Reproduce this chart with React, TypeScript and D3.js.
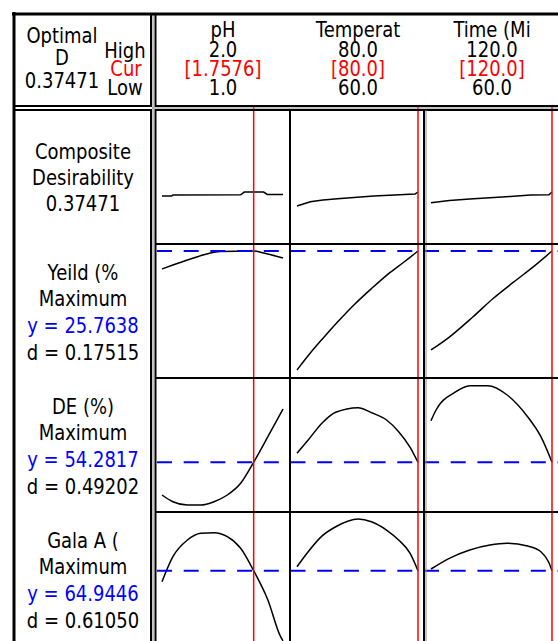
import React from "react";
import * as d3 from "d3";

// ---- Factors ----
const factorNames = ["pH", "Temperat", "Time (Mi"];
const factorLow = [1.0, 60.0, 60.0];
const factorHigh = [2.0, 80.0, 120.0];
const factorCur = [1.7576, 80.0, 120.0];
const highLabels = ["2.0", "80.0", "120.0"];
const curLabels = ["[1.7576]", "[80.0]", "[120.0]"];
const lowLabels = ["1.0", "60.0", "60.0"];

const optimalD = "0.37471";

// ---- Responses ----
const responseLabels = [
  ["Composite", "Desirability", "0.37471"],
  ["Yeild (%", "Maximum", "y = 25.7638", "d = 0.17515"],
  ["DE (%)", "Maximum", "y = 54.2817", "d = 0.49202"],
  ["Gala A (", "Maximum", "y = 64.9446", "d = 0.61050"],
];
const responseCurrent = [0.37471, 25.7638, 54.2817, 64.9446];
const responseDomains: [number, number][] = [
  [0, 1],
  [13.6, 25.7638],
  [40.0, 80.1],
  [50.0, 76.26],
];

// ---- Curves: [row][factor] -> [factorValue, responseValue][] ----
const compositePH: [number, number][] = [[1.0, 0.341], [1.08, 0.341], [1.09, 0.35], [1.65, 0.352], [1.68, 0.3747], [1.84, 0.3747], [1.87, 0.355], [2.0, 0.355]];
const compositeTemp: [number, number][] = [[60, 0.258], [62.2, 0.294], [64.3, 0.308], [66.7, 0.319], [69.4, 0.33], [72.7, 0.341], [76.1, 0.35], [79.5, 0.358], [80, 0.3747]];
const compositeTime: [number, number][] = [[60, 0.285], [69.1, 0.305], [79.2, 0.316], [89.2, 0.327], [99.3, 0.338], [109.4, 0.35], [118.5, 0.352], [120, 0.3747]];

const yieldPH: [number, number][] = [[1.0, 23.94], [1.09, 24.34], [1.21, 24.85], [1.37, 25.46], [1.48, 25.72], [1.7576, 25.7638], [1.84, 25.56], [2.0, 25.06]];
const yieldTemp: [number, number][] = [[60, 13.7], [62.2, 15.42], [64.2, 16.85], [66.7, 18.56], [69.4, 20.29], [72.3, 21.95], [75.1, 23.45], [77.8, 24.7], [80, 25.7638]];
const yieldTime: [number, number][] = [[60, 15.73], [69.1, 17.04], [80.7, 19.07], [90.8, 20.95], [100.9, 22.6], [111, 24.2], [120, 25.7638]];

const dePH: [number, number][] = [[1.0, 43.34], [1.09, 41.1], [1.21, 40.0], [1.32, 40.0], [1.43, 41.1], [1.54, 43.34], [1.65, 47.25], [1.7576, 54.2817], [1.875, 62.82], [2.0, 72.08]];
const deTemp: [number, number][] = [[60, 57.28], [61.85, 61.73], [64.2, 67.5], [66.4, 70.98], [70.1, 72.52], [72.3, 70.85], [74.8, 68.4], [76.8, 64.5], [78.7, 59.28], [80, 54.2817]];
const deTime: [number, number][] = [[60, 68.17], [62.5, 71.74], [71.6, 77.53], [79.2, 79.87], [88.2, 79.87], [97.8, 76.76], [107.9, 69.5], [114.5, 62.82], [120, 54.2817]];

const galaPH: [number, number][] = [[1.0, 62.54], [1.09, 68.01], [1.21, 71.66], [1.32, 73.14], [1.43, 73.27], [1.54, 72.39], [1.65, 69.85], [1.7576, 64.9446], [1.875, 58.53], [1.98, 50.5], [2.0, 49.6]];
const galaTemp: [number, number][] = [[60, 65.82], [61.85, 69.1], [64.2, 72.61], [66.4, 74.57], [70.1, 76.26], [72.3, 75.67], [74.8, 73.85], [76.8, 71.66], [78.7, 68.75], [80, 64.9446]];
const galaTime: [number, number][] = [[60, 65.32], [69.1, 67.66], [79.2, 69.48], [89.2, 70.57], [97.8, 70.94], [107.9, 70.35], [114.5, 69.1], [118.5, 66.7], [120, 64.9446]];

const curves = [
  [compositePH, compositeTemp, compositeTime],
  [yieldPH, yieldTemp, yieldTime],
  [dePH, deTemp, deTime],
  [galaPH, galaTemp, galaTime],
];

// ---- Layout ----
const W = 558;
const H = 641;
const colX = [155, 290, 424];
const colW = 134;
const rowY = [110, 244, 378, 512];
const rowH = 134;
const FONT = "DejaVu Sans";

function T({ x, y, children, fill = "#000", anchor = "middle" }: any) {
  return (
    <text
      transform={`translate(${x},${y}) scale(1,1.15)`}
      textAnchor={anchor}
      fill={fill}
      fontFamily={FONT}
      fontSize={18}
    >
      {children}
    </text>
  );
}

export default function App() {
  const xScales = factorNames.map((_, c) =>
    d3.scaleLinear().domain([factorLow[c], factorHigh[c]]).range([colX[c] + 7, colX[c] + 128])
  );
  const yScales = responseDomains.map((dom, r) =>
    d3.scaleLinear().domain(dom).range([rowY[r] + 127, rowY[r] + 7])
  );

  return (
    <svg
      width={W}
      height={H}
      style={{ position: "absolute", left: 0, top: 0, background: "#fff" }}
    >
      <rect x={0} y={0} width={W} height={H} fill="#fff" />
      <defs>
        {curves.map((row, r) =>
          row.map((_, c) => (
            <clipPath id={`clip-${r}-${c}`} key={`${r}-${c}`}>
              <rect x={colX[c] + 1} y={rowY[r] + 1} width={colW - 2} height={rowH - 2} />
            </clipPath>
          ))
        )}
      </defs>

      {/* curves */}
      {curves.map((row, r) =>
        row.map((pts, c) => {
          const line = d3
            .line<[number, number]>()
            .x((d) => xScales[c](d[0]))
            .y((d) => yScales[r](d[1]))
            .curve(r === 0 ? d3.curveLinear : d3.curveMonotoneX);
          return (
            <path
              key={`c-${r}-${c}`}
              d={line(pts) || ""}
              fill="none"
              stroke="#000"
              strokeWidth={1.5}
              clipPath={`url(#clip-${r}-${c})`}
            />
          );
        })
      )}

      {/* blue dashed current response lines */}
      {responseCurrent.map((v, r) =>
        r === 0 ? null : (
          <line
            key={`b-${r}`}
            x1={157}
            x2={W}
            y1={yScales[r](v)}
            y2={yScales[r](v)}
            stroke="#0000ff"
            strokeWidth={2}
            strokeDasharray="15 11.7"
          />
        )
      )}

      {/* red current factor lines */}
      {factorCur.map((v, c) => (
        <line
          key={`r-${c}`}
          x1={xScales[c](v)}
          x2={xScales[c](v)}
          y1={107}
          y2={H}
          stroke="#ff0000"
          strokeWidth={1.5}
        />
      ))}

      {/* frame */}
      <g fill="none" stroke="#000">
        <rect x={14} y={14} width={137} height={92} strokeWidth={2} />
        <rect x={155.5} y={14} width={500} height={92} strokeWidth={2} />
        <rect x={14} y={110} width={137} height={600} strokeWidth={2} />
        <rect x={155.5} y={110} width={500} height={600} strokeWidth={2} />
        <line x1={152} x2={W} y1={108} y2={108} stroke="#888" strokeWidth={1} />
        <line x1={153} x2={153} y1={14} y2={H} stroke="#888" strokeWidth={1} />
        <line x1={12} x2={W} y1={14} y2={14} strokeWidth={3} />
        <line x1={14} x2={14} y1={12} y2={H} strokeWidth={3} />
        {colX.slice(1).map((x) => (
          <line key={`v-${x}`} x1={x} x2={x} y1={110} y2={H} strokeWidth={2} />
        ))}
        <line x1={colX[2] + 2} x2={colX[2] + 2} y1={110} y2={H} stroke="#888" strokeWidth={1} />
        {rowY.slice(1).map((y) => (
          <line key={`h-${y}`} x1={155} x2={W} y1={y} y2={y} strokeWidth={2} />
        ))}
      </g>

      {/* header: top-left */}
      <T x={62} y={43}>Optimal</T>
      <T x={62} y={65}>D</T>
      <T x={62} y={88}>{optimalD}</T>
      <T x={125} y={58}>High</T>
      <T x={126} y={76} fill="#ff0000">Cur</T>
      <T x={125} y={95}>Low</T>

      {/* header: factors */}
      {factorNames.map((name, c) => {
        const cx = colX[c] + colW / 2 + 1;
        return (
          <g key={`f-${c}`}>
            <T x={cx} y={37}>{name}</T>
            <T x={cx} y={57}>{highLabels[c]}</T>
            <T x={cx} y={76} fill="#ff0000">{curLabels[c]}</T>
            <T x={cx} y={95}>{lowLabels[c]}</T>
          </g>
        );
      })}

      {/* response labels */}
      {responseLabels.map((lines, r) =>
        lines.map((s, i) => {
          const base = r === 0 ? rowY[r] + 49 + i * 26.2 : rowY[r] + 35.5 + i * 26.7;
          return (
            <T key={`l-${r}-${i}`} x={83} y={base} fill={s.startsWith("y =") ? "#0000ff" : "#000"}>
              {s}
            </T>
          );
        })
      )}
    </svg>
  );
}
